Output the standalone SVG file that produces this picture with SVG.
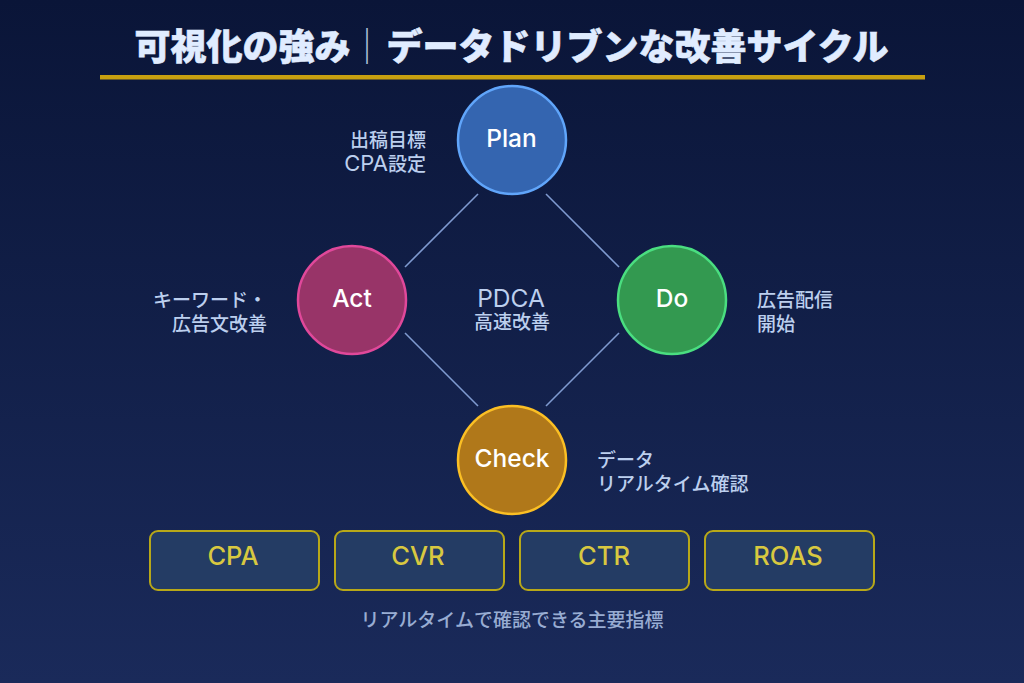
<svg xmlns="http://www.w3.org/2000/svg" width="1024" height="683" viewBox="0 0 1024 683">
<defs>
<linearGradient id="bg" x1="0" y1="0" x2="0" y2="1"><stop offset="0" stop-color="#0a1538"/><stop offset="1" stop-color="#1a2a5a"/></linearGradient>
</defs>
<style>
text{font-family:"Noto Sans CJK JP","Inter",sans-serif}
.lbl{font-size:19px;fill:#bccfee;font-weight:500}
.lat{font-family:"Inter",sans-serif;font-size:22px;font-weight:400}
.nd{font-size:24.5px;fill:#fff;text-anchor:middle;font-family:"Inter","Noto Sans CJK JP",sans-serif;font-weight:500}
.m{font-size:25.5px;fill:#d8c840;text-anchor:middle;font-family:"Inter","Noto Sans CJK JP",sans-serif;font-weight:500}
.box{fill:#243c64;stroke:#b8a818;stroke-width:2}
.c{stroke:#7f9ad0;stroke-width:1.6}
</style>
<rect width="1024" height="683" fill="url(#bg)"/>
<g id="title">
<text x="511.5" y="60" font-size="36" font-weight="900" fill="#e0ecff" stroke="#e0ecff" stroke-width="0.6" text-anchor="middle">可視化の強み<tspan dx="-1.5" font-weight="400" fill="#aebcd8" stroke="none">｜</tspan><tspan dx="1.5">データドリブンな改善サイクル</tspan></text>
<rect x="100" y="75" width="825" height="4.5" fill="#c8a010"/>
</g>
<g id="connectors">
<line class="c" x1="478" y1="194" x2="405" y2="267"/>
<line class="c" x1="546" y1="194" x2="619" y2="267"/>
<line class="c" x1="405" y1="333" x2="478" y2="406"/>
<line class="c" x1="619" y1="333" x2="546" y2="406"/>
</g>
<g id="plan">
<circle cx="512" cy="140" r="54" fill="#3465b0" stroke="#60a5fa" stroke-width="2.5"/>
<text class="nd" x="511.5" y="147">Plan</text>
<text class="lbl" x="426" y="147" text-anchor="end">出稿目標</text>
<text class="lbl" x="426" y="171" text-anchor="end"><tspan class="lat">CPA</tspan>設定</text>
</g>
<g id="do">
<circle cx="672" cy="300" r="54" fill="#339950" stroke="#4ade80" stroke-width="2.5"/>
<text class="nd" x="672" y="307">Do</text>
<text class="lbl" x="757" y="307">広告配信</text>
<text class="lbl" x="757" y="331">開始</text>
</g>
<g id="check">
<circle cx="512" cy="460" r="54" fill="#b0781a" stroke="#fbbf24" stroke-width="2.5"/>
<text class="nd" x="512" y="467">Check</text>
<text class="lbl" x="597" y="467">データ</text>
<text class="lbl" x="597" y="491">リアルタイム確認</text>
</g>
<g id="act">
<circle cx="352" cy="300" r="54" fill="#983468" stroke="#e0489a" stroke-width="2.5"/>
<text class="nd" x="352" y="307">Act</text>
<text class="lbl" x="267" y="307" text-anchor="end">キーワード・</text>
<text class="lbl" x="267" y="331" text-anchor="end">広告文改善</text>
</g>
<g id="center">
<text x="511" y="307" font-size="24.5" fill="#bccfee" text-anchor="middle" style="font-family:Inter,sans-serif">PDCA</text>
<text x="512" y="329" font-size="19" font-weight="500" fill="#bccfee" text-anchor="middle">高速改善</text>
</g>
<g id="m-cpa"><rect class="box" x="150" y="531" width="169" height="59" rx="8"/><text class="m" x="233" y="565">CPA</text></g>
<g id="m-cvr"><rect class="box" x="335" y="531" width="169" height="59" rx="8"/><text class="m" x="418" y="565">CVR</text></g>
<g id="m-ctr"><rect class="box" x="520" y="531" width="169" height="59" rx="8"/><text class="m" x="604" y="565">CTR</text></g>
<g id="m-roas"><rect class="box" x="705" y="531" width="169" height="59" rx="8"/><text class="m" x="788" y="565">ROAS</text></g>
<text x="512" y="627" font-size="19" font-weight="500" fill="#98acd2" text-anchor="middle">リアルタイムで確認できる主要指標</text>
</svg>
